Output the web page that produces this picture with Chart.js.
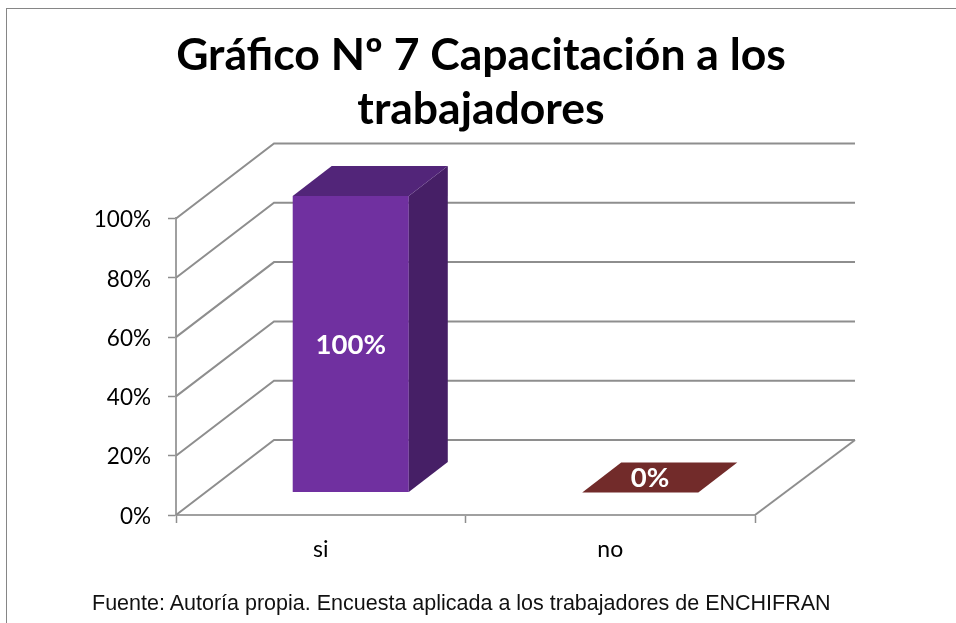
<!DOCTYPE html>
<html lang="es">
<head>
<meta charset="utf-8">
<title>Capacitación a los trabajadores</title>
<script src="https://cdn.jsdelivr.net/npm/chart.js@4/dist/chart.umd.min.js"></script>
<style>
  html, body { margin: 0; padding: 0; background: #fff; }
  #wrap { position: relative; width: 956px; height: 623px; overflow: hidden; }
  #frame { position: absolute; left: 6px; top: 8px; right: -4px; bottom: -4px; border: 1.5px solid #868686; }
  canvas { position: absolute; left: 0; top: 0; }
  #fuente { position: absolute; left: 92px; top: 591px; font: 21.5px "Liberation Sans", sans-serif; color: #111; white-space: nowrap; }
</style>
</head>
<body>
<div id="wrap">
  <div id="frame"></div>
  <canvas id="chart" width="956" height="623"></canvas>
  <div id="fuente">Fuente: Autoría propia. Encuesta aplicada a los trabajadores de ENCHIFRAN</div>
</div>
<script>
const categories = ['si', 'no'];
const values = [100, 0];
const titleLines = ['Gráfico Nº 7 Capacitación a los', 'trabajadores'];

const frontColors = ['#7030A0', '#722B2A'];
const topColors = ['#522579', '#722B2A'];
const sideColors = ['#461F66', '#722B2A'];
const gridColor = '#8E8E8E';
const axisColor = '#A0A0A0';
const fontName = 'Lato, sans-serif';

// depth of the floor and how far bars sit back on it
const wallDx = 98, wallDy = -75;
const barDx = 39, barDy = -30;
const shiftX = 30, shiftY = -22.5;

function poly(ctx, pts, color) {
  ctx.fillStyle = color;
  ctx.beginPath();
  pts.forEach((p, i) => i ? ctx.lineTo(p[0], p[1]) : ctx.moveTo(p[0], p[1]));
  ctx.closePath();
  ctx.fill();
}

const fake3d = {
  id: 'fake3d',
  beforeDatasetsDraw(chart) {
    const { ctx, scales: { x, y } } = chart;
    ctx.save();
    ctx.strokeStyle = gridColor;
    ctx.lineWidth = 2;
    y.ticks.forEach(t => {
      const py = y.getPixelForValue(t.value);
      ctx.beginPath();
      ctx.moveTo(x.left, py);
      ctx.lineTo(x.left + wallDx, py + wallDy);
      ctx.lineTo(x.right + wallDx + 2, py + wallDy);
      ctx.stroke();
    });
    // right edge of the floor
    ctx.beginPath();
    ctx.moveTo(x.right, y.bottom);
    ctx.lineTo(x.right + wallDx + 2, y.bottom + wallDy);
    ctx.stroke();
    ctx.restore();

    // bars are drawn as the front face, moved back onto the floor
    ctx.save();
    ctx.translate(shiftX, shiftY);
  },
  afterDatasetsDraw(chart) {
    const { ctx } = chart;
    const bars = chart.getDatasetMeta(0).data;
    bars.forEach((b, i) => {
      const l = b.x - b.width / 2, r = b.x + b.width / 2;
      poly(ctx, [[r, b.y], [r + barDx, b.y + barDy], [r + barDx, b.base + barDy], [r, b.base]], sideColors[i]);
      poly(ctx, [[l, b.y], [l + barDx, b.y + barDy], [r + barDx, b.y + barDy], [r, b.y]], topColors[i]);
    });
    ctx.fillStyle = '#fff';
    ctx.font = 'bold 27.5px ' + fontName;
    ctx.textAlign = 'center';
    ctx.textBaseline = 'middle';
    bars.forEach((b, i) => {
      // label sits on the front face, or on the top when the bar is flat
      const flat = values[i] === 0;
      const lx = flat ? b.x + barDx / 4 : b.x;
      const ly = flat ? b.base + barDy / 2 + 1 : (b.y + b.base) / 2 + 1;
      ctx.fillText(values[i] + '%', lx, ly);
    });
    ctx.restore();
  }
};

new Chart(document.getElementById('chart'), {
  type: 'bar',
  data: {
    labels: categories,
    datasets: [{
      data: values,
      backgroundColor: frontColors,
      barPercentage: 0.495,
      categoryPercentage: 0.81,
      clip: false
    }]
  },
  options: {
    responsive: false,
    animation: false,
    layout: { padding: { left: 6 } },
    plugins: {
      legend: { display: false },
      tooltip: { enabled: false },
      title: {
        display: true,
        text: titleLines,
        color: '#000',
        font: { family: fontName, size: 44.5, weight: 'bold', lineHeight: 1.23 },
        padding: { top: 28, bottom: 81 }
      }
    },
    scales: {
      x: {
        afterFit(s) { s.height = 108; },
        grid: { drawOnChartArea: false, tickColor: gridColor, tickLength: 8, tickWidth: 1.5 },
        border: { color: axisColor, width: 2 },
        ticks: { color: '#000', padding: 13, font: { family: fontName, size: 23 } }
      },
      y: {
        min: 0,
        max: 100,
        afterFit(s) { s.width = 170; },
        grid: { drawOnChartArea: false, tickColor: gridColor, tickLength: 8, tickWidth: 1.5 },
        border: { color: axisColor, width: 2 },
        ticks: {
          stepSize: 20,
          color: '#000',
          padding: 17,
          labelOffset: 1.5,
          font: { family: fontName, size: 22.5 },
          callback: v => v + '%'
        }
      },
      // empty right axis, only keeps the plot clear of the floor overhang
      side: {
        position: 'right',
        afterFit(s) { s.width = 201; },
        grid: { display: false },
        border: { display: false },
        ticks: { display: false }
      }
    }
  },
  plugins: [fake3d]
});
</script>
</body>
</html>
